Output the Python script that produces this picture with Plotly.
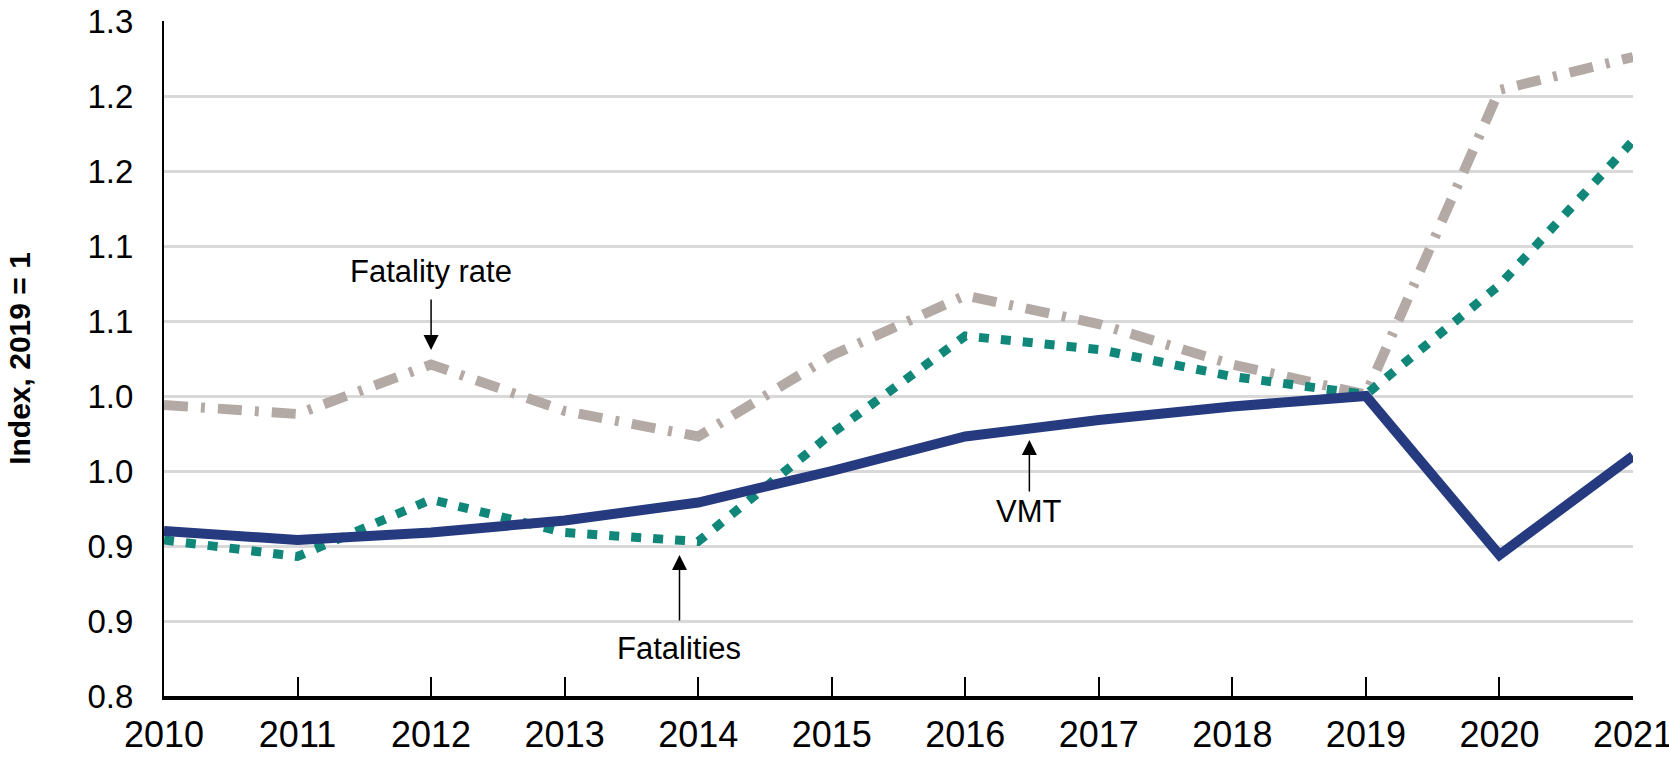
import plotly.graph_objects as go

years = [2010, 2011, 2012, 2013, 2014, 2015, 2016, 2017, 2018, 2019, 2020, 2021]
vmt = [0.910, 0.904, 0.909, 0.917, 0.929, 0.950, 0.973, 0.984, 0.993, 1.000, 0.894, 0.960]
fatalities = [0.904, 0.893, 0.931, 0.909, 0.903, 0.975, 1.040, 1.031, 1.013, 1.001, 1.074, 1.170]
fatality_rate = [0.994, 0.988, 1.021, 0.990, 0.973, 1.027, 1.067, 1.048, 1.021, 1.001, 1.204, 1.226]

y_tickvals = [0.80, 0.85, 0.90, 0.95, 1.00, 1.05, 1.10, 1.15, 1.20, 1.25]
y_ticktext = ["0.8", "0.9", "0.9", "1.0", "1.0", "1.1", "1.1", "1.2", "1.2", "1.3"]

FONT = "Liberation Sans, Arial, sans-serif"

fig = go.Figure()
fig.add_trace(go.Scatter(x=years, y=fatality_rate, mode="lines", name="Fatality rate",
                         line=dict(color="#b3a9a5", width=10, dash="24px,13px,4px,13px")))
fig.add_trace(go.Scatter(x=years, y=fatalities, mode="lines", name="Fatalities",
                         line=dict(color="#11877a", width=9, dash="10px,12px")))
fig.add_trace(go.Scatter(x=years, y=vmt, mode="lines", name="VMT",
                         line=dict(color="#263a80", width=10)))

labels = [
    dict(text="Fatality rate", x=2012.0, y=1.0827),
    dict(text="Fatalities", x=2013.86, y=0.832),
    dict(text="VMT", x=2016.48, y=0.9227),
]
for l in labels:
    fig.add_annotation(x=l["x"], y=l["y"], text=l["text"], showarrow=False,
                       font=dict(family=FONT, size=31, color="black"))

arrows = [
    dict(x=2012.0, y=1.0307, ax=2012.0, ay=1.0653),
    dict(x=2013.86, y=0.894, ax=2013.86, ay=0.8493),
    dict(x=2016.48, y=0.9707, ax=2016.48, ay=0.9353),
]
for a in arrows:
    fig.add_annotation(x=a["x"], y=a["y"], ax=a["ax"], ay=a["ay"], axref="x", ayref="y",
                       text="", showarrow=True, arrowhead=2, arrowsize=2.0,
                       arrowwidth=1.5, arrowcolor="black")

fig.update_layout(
    width=1669, height=761,
    margin=dict(l=164, r=36, t=21, b=65),
    plot_bgcolor="white", paper_bgcolor="white",
    showlegend=False,
    font=dict(family=FONT, size=33, color="black"),
)
fig.update_xaxes(
    range=[2010, 2021], tickvals=years, ticktext=[str(y) for y in years],
    showgrid=False, zeroline=False, showline=True, linecolor="black", linewidth=4,
    ticks="inside", ticklen=19, tickwidth=2, tickcolor="black",
    tickfont=dict(family=FONT, size=36, color="black"),
    ticklabelstandoff=4, automargin=False, ticklabeloverflow="allow",
)
fig.update_yaxes(
    range=[0.80, 1.25], tickvals=y_tickvals, ticktext=y_ticktext,
    showgrid=True, gridcolor="#d9d9d9", gridwidth=3, zeroline=False,
    showline=True, linecolor="black", linewidth=2, ticks="",
    ticklabelstandoff=22, automargin=False, ticklabeloverflow="allow",
    tickfont=dict(family=FONT, size=33, color="black"),
    title=dict(text="<b>Index, 2019 = 1</b>", standoff=48,
               font=dict(family=FONT, size=30, color="black")),
)

fig.write_html("out.html", config={"displayModeBar": False},
               post_script="document.body.style.margin='0px';")
